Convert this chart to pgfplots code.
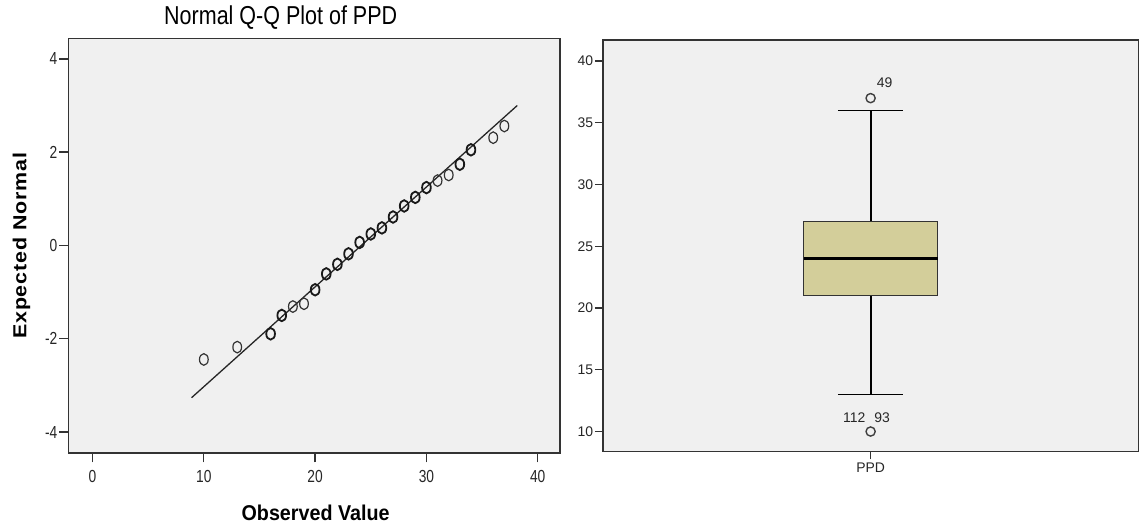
\documentclass[border=0pt]{standalone}
\usepackage{fontspec}
\setmainfont{Liberation Sans}
\newfontfamily\narrowfont[FakeStretch=0.79]{Liberation Sans}
\newfontfamily\titlefont[FakeStretch=0.83]{Liberation Sans}
\newfontfamily\obsfont[FakeStretch=0.92]{Liberation Sans}
\newfontfamily\ylabfont[LetterSpace=4]{Liberation Sans}
\usepackage{graphicx}
\usepackage{pgfplots}
\usepackage{pgfplotstable}
\pgfplotsset{compat=1.18}
\definecolor{bg}{HTML}{F0F0F0}
\definecolor{boxfill}{HTML}{D3CE9A}
\definecolor{frame}{HTML}{333333}

% Q-Q points (observed value, expected normal)
\pgfplotstableread{
x y
10 -2.445
13 -2.18
18 -1.31
19 -1.25
31 1.39
32 1.51
36 2.31
37 2.56
}\qqthin
\pgfplotstableread{
x y
16 -1.895
17 -1.50
20 -0.95
21 -0.61
22 -0.405
23 -0.18
24 0.065
25 0.246
26 0.376
27 0.61
28 0.846
29 1.03
30 1.24
33 1.74
34 2.05
}\qqbold

\begin{document}
\begin{tikzpicture}
\useasboundingbox (0,0) rectangle (1144bp,529bp);

\begin{axis}[
  at={(68.6bp,76bp)}, anchor=south west,
  scale only axis, width=491.4bp, height=414.2bp,
  xmin=-2.15, xmax=42, ymin=-4.45, ymax=4.43,
  xtick={0,10,20,30,40}, ytick={-4,-2,0,2,4},
  tick align=outside, tick pos=left, major tick length=9.5bp,
  axis line style={frame, line width=1.4bp},
  every tick/.style={frame, line width=1.3bp},
  axis background/.style={fill=bg},
  tick label style={font=\narrowfont\fontsize{17.5}{19}\selectfont, text=black!85},
  yticklabel style={inner xsep=1.5bp},
  xticklabel style={yshift=-4bp},
  /pgf/number format/assume math mode=true,
  clip=false,
]
\addplot[no marks, line width=1.3bp, black!85] coordinates {(8.9,-3.264) (38.16,3.0)};
\addplot[only marks, mark=o, mark size=5.8bp, mark options={xscale=0.75, line width=1.2bp, draw=black!80}] table {\qqthin};
\addplot[only marks, mark=o, mark size=5.8bp, mark options={xscale=0.75, line width=1.8bp, draw=black!90}] table {\qqbold};
\end{axis}

\begin{axis}[
  at={(602.8bp,77.6bp)}, anchor=south west,
  scale only axis, width=535.6bp, height=411.3bp,
  xmin=-2, xmax=2, ymin=8.39, ymax=41.7,
  xtick={0}, xticklabels={PPD}, ytick={10,15,20,25,30,35,40},
  tick align=outside, tick pos=left, major tick length=8bp,
  axis line style={frame, line width=1.4bp},
  every tick/.style={frame, line width=1.3bp},
  axis background/.style={fill=bg},
  tick label style={font=\fontsize{14}{16}\selectfont, text=black!85},
  yticklabel style={inner xsep=1.5bp},
  /pgf/number format/assume math mode=true,
]
% whiskers
\addplot[black, line width=2bp] coordinates {(0,27) (0,36)};
\addplot[black, line width=2bp] coordinates {(0,13) (0,21)};
\addplot[black, line width=1.8bp] coordinates {(-0.245,36) (0.245,36)};
\addplot[black, line width=1.8bp] coordinates {(-0.245,13) (0.245,13)};
% box (Q1 = 21, Q3 = 27)
\addplot[fill=boxfill, draw=black!80, line width=1.6bp] coordinates {(-0.5,21) (0.5,21) (0.5,27) (-0.5,27)} -- cycle;
% median
\addplot[black, line width=2.4bp] coordinates {(-0.5,24) (0.5,24)};
% outliers
\addplot[only marks, mark=o, mark size=4.6bp, mark options={draw=black!75, line width=1.4bp}] coordinates {(0,37) (0,10)};
\node[font=\fontsize{14}{16}\selectfont, text=black!85] at (axis cs:0,37) [xshift=14bp, yshift=15bp] {49};
\node[font=\fontsize{14}{16}\selectfont, text=black!85] at (axis cs:0,10) [xshift=-4.1bp, yshift=13.6bp] {112\hspace{9bp}93};
\end{axis}

\node[font=\titlefont\fontsize{26}{28}\selectfont] at (280.7bp,511bp) {Normal Q-Q Plot of PPD};
\node[font=\obsfont\bfseries\fontsize{21.5}{23}\selectfont] at (315.6bp,15.9bp) {Observed Value};
\node[rotate=90, font=\ylabfont\bfseries\fontsize{21.5}{23}\selectfont] at (21.5bp,283.2bp) {\scalebox{1}[0.88]{Expected Normal}};
\end{tikzpicture}
\end{document}
